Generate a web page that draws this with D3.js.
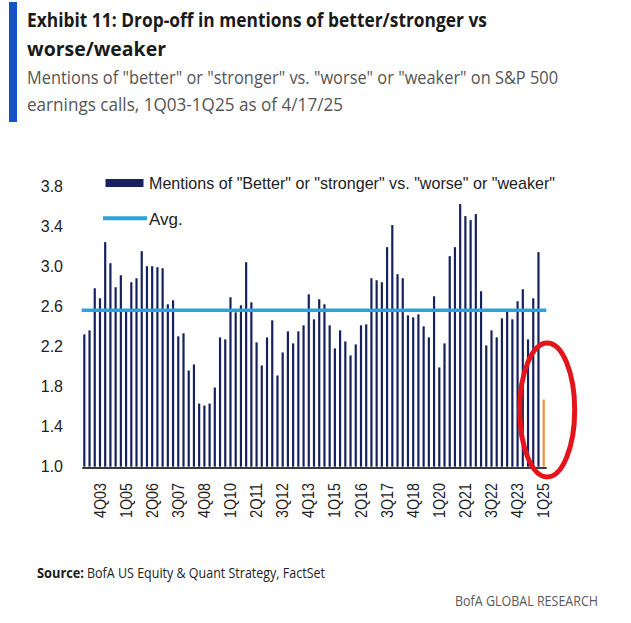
<!DOCTYPE html>
<html>
<head>
<meta charset="utf-8">
<script src="https://cdn.jsdelivr.net/npm/d3@7"></script>
<style>
  body { margin: 0; background: #fff; }
  svg { display: block; }
</style>
</head>
<body>
<div id="chart"></div>
<script>
// ----------- data -----------------------------------
var firstYear = 2003;
var mentionRatio = [
  2.32, 2.36, 2.78, 2.68, 3.24, 3.03, 2.79, 2.91, 2.57, 2.84,
  2.88, 3.15, 3.00, 3.00, 2.99, 2.98, 2.62, 2.66, 2.30, 2.33,
  1.96, 2.02, 1.63, 1.61, 1.63, 1.79, 2.29, 2.27, 2.69, 2.54,
  2.61, 3.04, 2.64, 2.24, 2.01, 2.29, 2.46, 1.91, 2.14, 2.35,
  2.23, 2.35, 2.41, 2.72, 2.47, 2.67, 2.62, 2.41, 2.18, 2.36,
  2.25, 2.11, 2.22, 2.41, 2.42, 2.88, 2.86, 2.84, 3.19, 3.41,
  2.92, 2.88, 2.51, 2.49, 2.52, 2.40, 2.29, 2.70, 1.99, 2.23,
  3.10, 3.19, 3.62, 3.50, 3.46, 3.52, 2.75, 2.21, 2.36, 2.29,
  2.48, 2.55, 2.47, 2.65, 2.77, 2.27, 2.68, 3.14, 1.67
];
var avgValue = 2.56;
var highlightQuarter = "1Q25";
var tickLabels = ["4Q03", "1Q05", "2Q06", "3Q07", "4Q08", "1Q10", "2Q11", "3Q12", "4Q13",
  "1Q15", "2Q16", "3Q17", "4Q18", "1Q20", "2Q21", "3Q22", "4Q23", "1Q25"];
var yTicks = [1.0, 1.4, 1.8, 2.2, 2.6, 3.0, 3.4, 3.8];
var legendLabels = ['Mentions of "Better" or "stronger" vs. "worse" or "weaker"', "Avg."];

// quarter names 1Q03, 2Q03 ... one per value
var quarters = mentionRatio.map(function (d, i) {
  var q = (i % 4) + 1;
  var yr = (firstYear + Math.floor(i / 4)) % 100;
  return q + "Q" + (yr < 10 ? "0" + yr : yr);
});
var data = quarters.map(function (q, i) { return { quarter: q, value: mentionRatio[i] }; });

var W = 631, H = 623;
var svg = d3.select("#chart")
  .append("svg")
  .attr("width", W)
  .attr("height", H);

// ----------- header --------------
svg.append("rect")
  .attr("x", 9).attr("y", 2)
  .attr("width", 8).attr("height", 120)
  .attr("fill", "#1553c7");

function headerText(str, x, y, len, size, weight, color) {
  return svg.append("text")
    .attr("x", x).attr("y", y)
    .attr("textLength", len)
    .attr("lengthAdjust", "spacingAndGlyphs")
    .style("font-family", "'Open Sans', 'Noto Sans', sans-serif")
    .style("font-size", size + "px")
    .style("font-weight", weight)
    .style("fill", color)
    .text(str);
}
headerText("Exhibit 11: Drop-off in mentions of better/stronger vs", 27, 27, 460, 20, 700, "#1a1a1a");
headerText("worse/weaker", 27, 56, 139, 20, 700, "#1a1a1a");
headerText('Mentions of "better" or "stronger" vs. "worse" or "weaker" on S&P 500', 27, 84, 531, 17.5, 400, "#555");
headerText("earnings calls, 1Q03-1Q25 as of 4/17/25", 27, 111, 316, 17.5, 400, "#555");

// ----------- scales --------------
var x = d3.scaleBand()
  .domain(quarters)
  .range([81.7, 546.3])
  .paddingInner(0.58)
  .paddingOuter(0.29);

var y = d3.scaleLinear()
  .domain([1.0, 3.8])
  .range([466.7, 186]);

// Y axis (labels only)
var yAxis = svg.append("g")
  .attr("transform", "translate(82,0)")
  .call(d3.axisLeft(y).tickValues(yTicks).tickFormat(d3.format(".1f")).tickSize(0).tickPadding(19));
yAxis.select(".domain").remove();
yAxis.selectAll("text")
  .style("font-family", "'Liberation Sans', Arial, sans-serif")
  .style("font-size", "16px")
  .style("fill", "#222");

// bars
svg.append("g")
  .selectAll("rect")
  .data(data)
  .join("rect")
  .attr("x", function (d) { return x(d.quarter); })
  .attr("y", function (d) { return y(d.value); })
  .attr("width", x.bandwidth())
  .attr("height", function (d) { return y(1.0) - y(d.value); })
  .attr("fill", function (d) { return d.quarter === highlightQuarter ? "#e8913c" : "#17215e"; });

// average line
svg.append("line")
  .attr("x1", x.range()[0]).attr("x2", x.range()[1])
  .attr("y1", y(avgValue)).attr("y2", y(avgValue))
  .attr("stroke", "#2aa3dc")
  .attr("stroke-width", 3.5);

// X axis
var xAxis = svg.append("g")
  .attr("transform", "translate(0," + (y(1.0) + 0.8) + ")")
  .call(d3.axisBottom(x).tickValues(tickLabels).tickSize(0).tickSizeOuter(0).tickPadding(0));
xAxis.select(".domain")
  .attr("stroke", "#3a3a3a")
  .attr("stroke-width", 2);
xAxis.selectAll("text")
  .attr("y", 0)
  .attr("dy", "0.35em")
  .attr("transform", "translate(0,15.5) rotate(-90)")
  .attr("textLength", 35)
  .attr("lengthAdjust", "spacingAndGlyphs")
  .style("text-anchor", "end")
  .style("font-family", "'Liberation Sans', Arial, sans-serif")
  .style("font-size", "16px")
  .style("fill", "#222");

// ----------- legend --------------
var legend = svg.append("g")
  .selectAll("g")
  .data(legendLabels)
  .join("g")
  .attr("transform", function (d, i) { return "translate(0," + i * 36.5 + ")"; });

legend.each(function (d, i) {
  var g = d3.select(this);
  if (i === 0) {
    g.append("rect")
      .attr("x", 105.5).attr("y", 179)
      .attr("width", 38).attr("height", 8)
      .attr("fill", "#17215e");
  } else {
    g.append("line")
      .attr("x1", 103).attr("x2", 147)
      .attr("y1", 181.8).attr("y2", 181.8)
      .attr("stroke", "#2aa3dc")
      .attr("stroke-width", 4);
  }
  var t = g.append("text")
    .attr("x", 149)
    .attr("y", 188.5)
    .style("font-family", "'Liberation Sans', Arial, sans-serif")
    .style("font-size", "17px")
    .style("fill", "#222")
    .text(d);
  if (i === 0) t.attr("textLength", 406).attr("lengthAdjust", "spacingAndGlyphs");
});

// red annotation ellipse round the latest quarter
svg.append("ellipse")
  .attr("cx", x(highlightQuarter) + x.bandwidth() / 2 + 3.5)
  .attr("cy", 410)
  .attr("rx", 27.5)
  .attr("ry", 67)
  .attr("fill", "none")
  .attr("stroke", "#e3141b")
  .attr("stroke-width", 5);

// ----------- footer --------------
headerText("Source:", 37, 578, 47, 15, 700, "#1a1a1a");
headerText("BofA US Equity & Quant Strategy, FactSet", 87, 578, 238, 15, 400, "#222");
headerText("BofA GLOBAL RESEARCH", 455, 606, 143, 15, 400, "#5a5a5a");
</script>
</body>
</html>
